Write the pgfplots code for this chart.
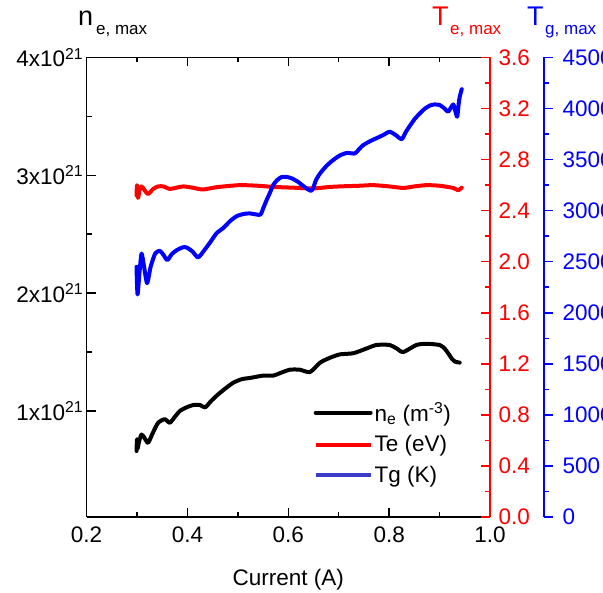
\documentclass[border=0pt]{standalone}
\usepackage{pgfplots}
\pgfplotsset{compat=1.18}
\usepackage{fontspec}
\setmainfont{Liberation Sans}
\definecolor{myred}{RGB}{255,0,0}
\definecolor{myblue}{RGB}{0,0,255}
\definecolor{legblue}{RGB}{60,60,200}
\newcommand{\fs}{\fontsize{22.5}{27}\selectfont}
\begin{document}
\begin{tikzpicture}[x=1pt,y=1pt]
\useasboundingbox (0,0) rectangle (603,593);
\pgfplotsset{
  common/.style={
    at={(86.6pt,76pt)}, anchor=south west,
    scale only axis, width=403.4pt, height=459.5pt,
    xmin=0.2, xmax=1.0,
    tick align=inside,
    major tick length=9pt, minor tick length=5pt,
    every tick label/.append style={font=\fs},
    /pgf/number format/assume math mode=true,
    axis line style={line width=1.5pt},
    every tick/.style={line width=1.5pt},
  }
}
\begin{axis}[common,
  axis x line=box, axis y line*=left,
  ymin=0.1, ymax=4,
  ytick={1,2,3,4},
  yticklabels={1x10\textsuperscript{21},2x10\textsuperscript{21},3x10\textsuperscript{21},4x10\textsuperscript{21}},
  minor y tick num=1,
  xtick={0.2,0.4,0.6,0.8,1.0},
  minor x tick num=1,
  xticklabel style={yshift=-6pt, /pgf/number format/fixed, /pgf/number format/fixed zerofill, /pgf/number format/precision=1},
  xlabel={Current (A)}, xlabel style={font=\fs, yshift=-20pt},
  every tick/.style={black,line width=1.5pt},
  legend style={draw=none, fill=none, font=\fs, at={(0.555,0.258)}, anchor=north west, cells={anchor=west}, row sep=9pt},
  legend image code/.code={\draw[#1] (0pt,0pt) -- (55pt,0pt);},
]
\addplot[black, line width=4pt, line join=round, line cap=round, smooth, tension=0.4] coordinates {
(0.299,0.66) (0.300,0.76) (0.301,0.68) (0.304,0.74) (0.309,0.80) (0.315,0.77) (0.322,0.73)
(0.332,0.82) (0.342,0.90) (0.355,0.93) (0.365,0.90) (0.375,0.95) (0.385,1.00) (0.398,1.03)
(0.411,1.05) (0.425,1.05) (0.435,1.03) (0.446,1.08) (0.458,1.13) (0.475,1.19) (0.491,1.24)
(0.508,1.27) (0.524,1.28) (0.550,1.30) (0.570,1.30) (0.583,1.32) (0.603,1.35) (0.623,1.35)
(0.643,1.33) (0.663,1.41) (0.682,1.45) (0.702,1.48) (0.729,1.49) (0.755,1.53) (0.775,1.56)
(0.801,1.56) (0.815,1.53) (0.828,1.50) (0.854,1.56) (0.874,1.57) (0.900,1.56) (0.910,1.53)
(0.917,1.49) (0.925,1.44) (0.930,1.42) (0.940,1.41)
};
\addlegendentry{n\textsubscript{e} (m\textsuperscript{-3})}
\addlegendimage{myred, line width=4pt}
\addlegendentry{Te (eV)}
\addlegendimage{legblue, line width=4pt}
\addlegendentry{Tg (K)}
\end{axis}
\begin{axis}[common,
  axis x line=none, axis y line*=right,
  ymin=0, ymax=3.6,
  ytick={0,0.4,0.8,1.2,1.6,2.0,2.4,2.8,3.2,3.6},
  minor y tick num=1,
  y axis line style={myred, line width=1.5pt},
  every tick/.style={myred,line width=1.5pt},
  yticklabel style={myred, xshift=5pt, /pgf/number format/fixed, /pgf/number format/fixed zerofill, /pgf/number format/precision=1},
]
\addplot[myred, line width=4pt, line join=round, line cap=round, smooth, tension=0.4] coordinates {
(0.299,2.52) (0.300,2.60) (0.302,2.50) (0.305,2.56) (0.309,2.59) (0.315,2.56) (0.322,2.53)
(0.332,2.57) (0.342,2.59) (0.352,2.59) (0.365,2.57) (0.378,2.58) (0.392,2.59) (0.410,2.58)
(0.431,2.566) (0.460,2.585) (0.504,2.60) (0.540,2.595) (0.570,2.586) (0.610,2.58) (0.649,2.574)
(0.680,2.585) (0.702,2.59) (0.740,2.595) (0.768,2.60) (0.800,2.59) (0.828,2.578) (0.850,2.59)
(0.874,2.60) (0.900,2.595) (0.927,2.578) (0.937,2.56) (0.944,2.58)
};
\end{axis}
\begin{axis}[common,
  axis x line=none, axis y line*=right, axis y line shift=54pt,
  tick align=outside,
  ymin=0, ymax=4500,
  ytick={0,500,1000,1500,2000,2500,3000,3500,4000,4500},
  minor y tick num=1,
  y axis line style={myblue, line width=1.5pt},
  every tick/.style={myblue,line width=1.5pt},
  yticklabel style={myblue, xshift=6pt, /pgf/number format/1000 sep={}},
]
\addplot[myblue, line width=4pt, line join=round, line cap=round, smooth, tension=0.4] coordinates {
(0.299,2450) (0.301,2180) (0.305,2400) (0.309,2580) (0.314,2450) (0.320,2290) (0.327,2450)
(0.336,2580) (0.345,2607) (0.352,2570) (0.360,2516) (0.369,2575) (0.379,2614) (0.390,2640)
(0.398,2640) (0.410,2600) (0.421,2542) (0.433,2610) (0.445,2690) (0.458,2780) (0.471,2830)
(0.485,2900) (0.498,2947) (0.512,2968) (0.524,2973) (0.544,2960) (0.550,3020) (0.557,3104)
(0.564,3180) (0.570,3251) (0.578,3300) (0.587,3330) (0.597,3330) (0.607,3316) (0.620,3280)
(0.630,3240) (0.646,3195) (0.655,3300) (0.663,3365) (0.676,3440) (0.689,3496) (0.702,3540)
(0.716,3565) (0.732,3560) (0.740,3600) (0.748,3640) (0.762,3680) (0.775,3710) (0.788,3740)
(0.801,3773) (0.813,3740) (0.825,3700) (0.833,3770) (0.841,3830) (0.851,3900) (0.861,3953)
(0.871,4000) (0.881,4030) (0.890,4040) (0.900,4035) (0.910,4000) (0.917,3969) (0.927,4040)
(0.931,3980) (0.935,3920) (0.938,4050) (0.940,4116) (0.944,4190)
};
\end{axis}
\node[anchor=base west, inner sep=0, font=\fontsize{27}{30}\selectfont] at (78,567) {n};
\node[anchor=base west, inner sep=0, font=\fontsize{17}{20}\selectfont] at (96,558) {e, max};
\node[anchor=base west, inner sep=0, font=\fontsize{27}{30}\selectfont, myred] at (432,567) {T};
\node[anchor=base west, inner sep=0, font=\fontsize{17}{20}\selectfont, myred] at (450,558) {e, max};
\node[anchor=base west, inner sep=0, font=\fontsize{27}{30}\selectfont, myblue] at (527,567) {T};
\node[anchor=base west, inner sep=0, font=\fontsize{17}{20}\selectfont, myblue] at (545,558) {g, max};
\end{tikzpicture}
\end{document}
